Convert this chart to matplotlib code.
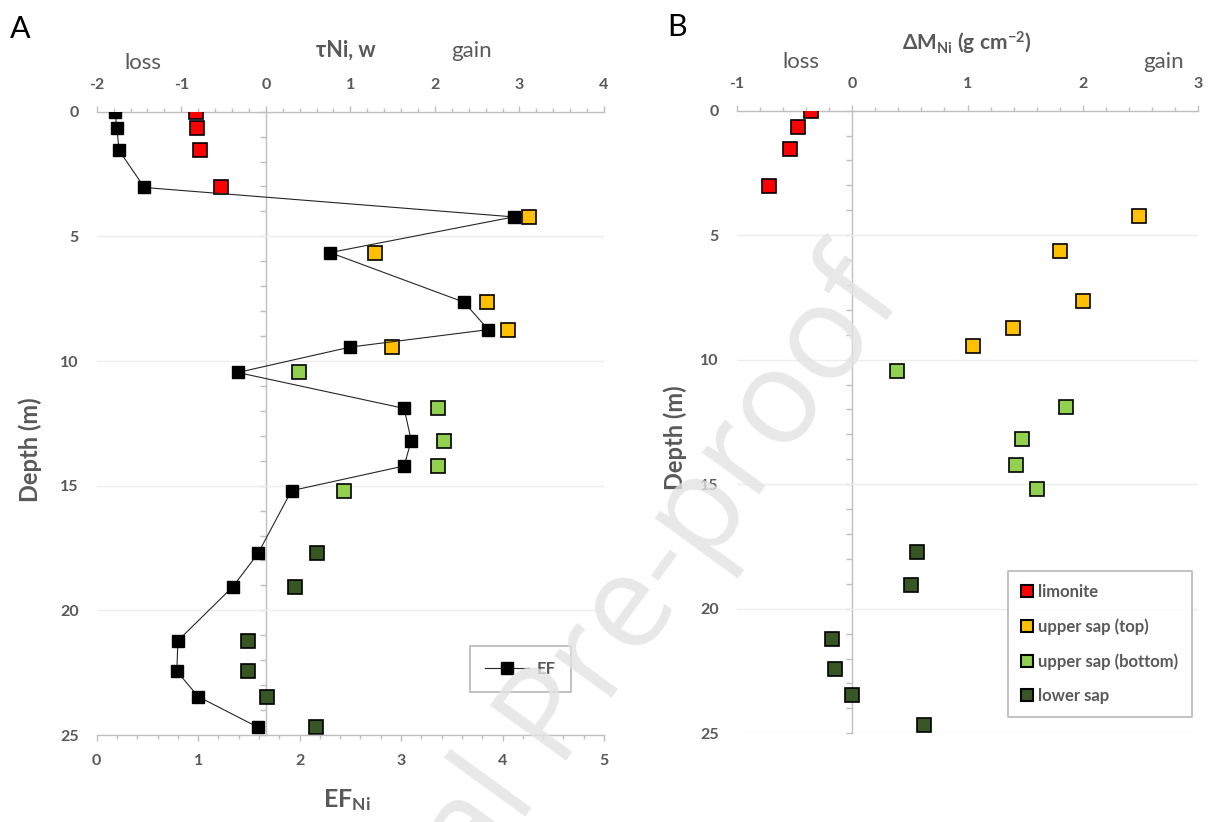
import matplotlib
matplotlib.use("Agg")
import numpy as np
import matplotlib.pyplot as plt
from matplotlib.ticker import MultipleLocator, NullFormatter
from matplotlib.patches import Patch

plt.rcParams['font.family'] = ['Lato', 'DejaVu Sans']
plt.rcParams['font.weight'] = 'bold'
plt.rcParams['axes.unicode_minus'] = False
plt.rcParams['mathtext.fontset'] = 'custom'
plt.rcParams['mathtext.rm'] = 'Lato'
plt.rcParams['mathtext.bf'] = 'Lato:bold'
plt.rcParams['mathtext.it'] = 'Lato:italic'

# ---- data -------------------------------------------------------------
depth = [0.0, 0.67, 1.55, 3.04, 4.22, 5.65, 7.64, 8.74, 9.44, 10.46,
         11.90, 13.19, 14.21, 15.20, 17.72, 19.06, 21.22, 22.44, 23.46, 24.69]
horizon_of_sample = [0, 0, 0, 0, 1, 1, 1, 1, 1, 2, 2, 2, 2, 2, 3, 3, 3, 3, 3, 3]
horizons = ['limonite', 'upper sap (top)', 'upper sap (bottom)', 'lower sap']
horizon_colors = ['#FF0000', '#FFC000', '#92D050', '#375623']

tau_ni = [-0.82, -0.81, -0.78, -0.53, 3.11, 1.29, 2.62, 2.86, 1.49, 0.39,
          2.04, 2.11, 2.04, 0.92, 0.60, 0.34, -0.21, -0.21, 0.01, 0.59]
ef_ni = [0.18, 0.20, 0.22, 0.47, 4.11, 2.30, 3.62, 3.86, 2.50, 1.39,
         3.03, 3.10, 3.03, 1.92, 1.59, 1.34, 0.80, 0.79, 1.00, 1.59]
dm_ni = [-0.36, -0.47, -0.54, -0.72, 2.49, 1.80, 2.00, 1.39, 1.05, 0.39,
         1.85, 1.47, 1.42, 1.60, 0.56, 0.51, -0.17, -0.15, 0.00, 0.62]

tau_ticks = [-2, -1, 0, 1, 2, 3, 4]
ef_ticks = [0, 1, 2, 3, 4, 5]
dm_ticks = [-1, 0, 1, 2, 3]
depth_ticks = [0, 5, 10, 15, 20, 25]

# ---- style --------------------------------------------------------------
W, H = 1210, 822
AX_GRAY = '#BFBFBF'
GRID = '#EDEDED'
TXT = '#595959'
TICK_FS = 11.5


def fx(px):
    return px / W


def fy(py):
    return 1 - py / H


fig = plt.figure(figsize=(W / 100, H / 100), dpi=100)
fig.patch.set_facecolor('white')

depth_a = np.array(depth)
hz = np.array(horizon_of_sample)


def style_depth_axis(ax, zero_frac):
    ax.set_ylim(25, 0)
    ax.set_yticks(depth_ticks)
    ax.tick_params(axis='y', length=0, pad=13, labelsize=TICK_FS, labelcolor=TXT)
    ax.yaxis.grid(True, color=GRID, lw=1.0)
    ax.set_axisbelow(True)
    for s in ['left', 'right', 'bottom']:
        ax.spines[s].set_visible(False)
    ax.spines['top'].set_color(AX_GRAY)
    ax.spines['top'].set_linewidth(1.0)
    sec = ax.secondary_yaxis(zero_frac)
    sec.yaxis.set_major_locator(MultipleLocator(1))
    sec.yaxis.set_major_formatter(NullFormatter())
    sec.tick_params(axis='y', length=4, width=1, color=AX_GRAY,
                    labelleft=False, labelright=False)
    for s in sec.spines.values():
        s.set_color(AX_GRAY)
        s.set_linewidth(1.0)


def style_x(ax, lo, hi, ticks, top):
    ax.set_xlim(lo, hi)
    if top:
        ax.xaxis.tick_top()
    else:
        ax.xaxis.tick_bottom()
    ax.set_xticks(ticks)
    ax.xaxis.set_minor_locator(MultipleLocator(0.2))
    ax.tick_params(axis='x', which='both', direction='out', color=AX_GRAY,
                   width=1, labelsize=TICK_FS, labelcolor=TXT)
    ax.tick_params(axis='x', which='major', length=4, pad=10)
    ax.tick_params(axis='x', which='minor', length=3)


# ---- panel A -----------------------------------------------------------
axA = fig.add_axes([fx(96.7), fy(735), fx(604) - fx(96.7), fy(111.7) - fy(735)])
efA = axA.twiny()

style_x(axA, -2, 4, tau_ticks, top=True)
style_depth_axis(axA, 2 / 6)

for k, (name, col) in enumerate(zip(horizons, horizon_colors)):
    m = hz == k
    axA.plot(np.array(tau_ni)[m], depth_a[m], ls='none', marker='s', ms=10.5,
             mfc=col, mec='black', mew=1.2, zorder=3)

style_x(efA, 0, 5, ef_ticks, top=False)
for s in ['left', 'right', 'top']:
    efA.spines[s].set_visible(False)
efA.spines['bottom'].set_color(AX_GRAY)
efA.spines['bottom'].set_linewidth(1.0)
efA.plot(ef_ni, depth, color='#262626', lw=0.8, marker='s', ms=8.5,
         mfc='black', mec='black', label='EF', zorder=4)
legA = efA.legend(loc='lower left', bbox_to_anchor=(0.72, 0.056), frameon=True,
                  fancybox=False, edgecolor='#A6A6A6', fontsize=12,
                  handlelength=2.6, borderpad=0.9, handletextpad=0.5,
                  labelcolor=TXT)
legA.get_frame().set_linewidth(1.2)

fig.text(fx(20), fy(29), 'A', fontsize=22, weight='normal', color='black',
         ha='center', va='center')
fig.text(fx(346), fy(50), 'τNi, w', fontsize=15.5, color=TXT,
         ha='center', va='center')
fig.text(fx(143), fy(63), 'loss', fontsize=16, weight='normal', color=TXT,
         ha='center', va='center')
fig.text(fx(472), fy(51), 'gain', fontsize=16, weight='normal', color=TXT,
         ha='center', va='center')
fig.text(fx(30), fy(450), 'Depth (m)', fontsize=17, color=TXT, rotation=90,
         ha='center', va='center')
fig.text(fx(347), fy(800), r'$\mathbf{EF_{Ni}}$', fontsize=18, color=TXT,
         ha='center', va='center')

# ---- panel B -----------------------------------------------------------
axB = fig.add_axes([fx(736.7), fy(733.2), fx(1198.3) - fx(736.7),
                    fy(110.7) - fy(733.2)])
style_x(axB, -1, 3, dm_ticks, top=True)
style_depth_axis(axB, 1 / 4)

handles = []
for k, (name, col) in enumerate(zip(horizons, horizon_colors)):
    m = hz == k
    axB.plot(np.array(dm_ni)[m], depth_a[m], ls='none', marker='s', ms=10.5,
             mfc=col, mec='black', mew=1.2, zorder=3)
    handles.append(Patch(facecolor=col, edgecolor='black', lw=1.5, label=name))

legB = axB.legend(handles=handles, loc='lower right',
                  bbox_to_anchor=(1.004, 0.012), frameon=True, fancybox=False,
                  edgecolor='#A6A6A6', fontsize=12, handlelength=0.75,
                  handleheight=0.75, handletextpad=0.3, labelspacing=1.1,
                  borderpad=0.8, labelcolor=TXT)
legB.get_frame().set_linewidth(1.2)

fig.text(fx(677), fy(27), 'B', fontsize=22, weight='normal', color='black',
         ha='center', va='center')
fig.text(fx(967), fy(43), r'$\mathbf{\Delta M_{Ni}}$ $\mathbf{(g\ cm^{-2})}$',
         fontsize=15, color=TXT, ha='center', va='center')
fig.text(fx(801), fy(62), 'loss', fontsize=16, weight='normal', color=TXT,
         ha='center', va='center')
fig.text(fx(1164), fy(62), 'gain', fontsize=16, weight='normal', color=TXT,
         ha='center', va='center')
fig.text(fx(675), fy(438), 'Depth (m)', fontsize=17, color=TXT, rotation=90,
         ha='center', va='center')

# ---- watermark ---------------------------------------------------------
fig.text(0.471, 0.134, 'Journal Pre-proof', rotation=54, fontsize=95,
         family='Open Sans', weight='normal', color='#E3E3E3', alpha=0.8,
         ha='center', va='center', rotation_mode='anchor', zorder=10)

fig.savefig('out.png', dpi=100)
